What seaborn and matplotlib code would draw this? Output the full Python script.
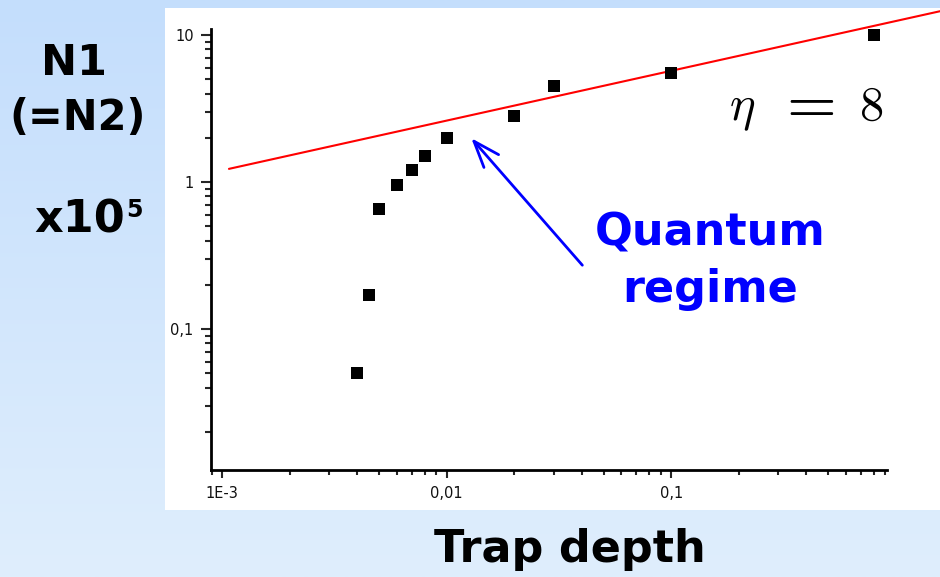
import numpy as np
import matplotlib
matplotlib.use("Agg")
import matplotlib.pyplot as plt
import seaborn as sns
from matplotlib.ticker import LogLocator, FixedLocator, FixedFormatter, NullFormatter
from matplotlib.patches import Rectangle
from matplotlib.colors import LinearSegmentedColormap

# ---- data ----
trap_depth = [0.004, 0.0045, 0.005, 0.006, 0.007, 0.008, 0.01, 0.02, 0.03, 0.1, 0.8]
n1 = [0.05, 0.17, 0.66, 0.95, 1.2, 1.5, 2.0, 2.8, 4.5, 5.5, 10.0]
fit_depth = [0.00107, 1.6]
fit_n = [1.23, 14.6]
xticks = [0.001, 0.01, 0.1]
xticklabels = ["1E-3", "0,01", "0,1"]
yticks = [0.1, 1, 10]
yticklabels = ["0,1", "1", "10"]

sns.set_style("ticks")
plt.rcParams["font.family"] = ["DejaVu Sans"]
plt.rcParams["mathtext.fontset"] = "cm"
plt.rcParams["text.color"] = "black"

W, H = 940, 577
fig = plt.figure(figsize=(9.4, 5.77), dpi=100)

# background gradient + white panel
bg = fig.add_axes([0, 0, 1, 1], zorder=-10)
grad = np.linspace(0, 1, 256).reshape(-1, 1)
cmap = LinearSegmentedColormap.from_list("bg", ["#C4DEFC", "#DFEEFD"])
bg.imshow(grad, aspect="auto", cmap=cmap, extent=[0, 1, 0, 1], origin="upper")
bg.set_xlim(0, 1)
bg.set_ylim(0, 1)
bg.axis("off")
bg.add_patch(Rectangle((165 / W, 1 - 510 / H), (W - 165) / W, (510 - 8) / H,
                       facecolor="white", edgecolor="none"))

ax = fig.add_axes([211 / W, 1 - 470 / H, (887 - 211) / W, (470 - 29) / H])
ax.patch.set_alpha(0)

sns.lineplot(x=fit_depth, y=fit_n, ax=ax, color="red", lw=1.5, clip_on=False, zorder=3)
sns.scatterplot(x=trap_depth, y=n1, ax=ax, marker="s", s=64, color="black",
                linewidth=0, zorder=4)

ax.set_xscale("log")
ax.set_yscale("log")
ax.set_xlim(0.00089, 0.916)
ax.set_ylim(0.011, 11)

ax.xaxis.set_major_locator(FixedLocator(xticks))
ax.xaxis.set_major_formatter(FixedFormatter(xticklabels))
ax.yaxis.set_major_locator(FixedLocator(yticks))
ax.yaxis.set_major_formatter(FixedFormatter(yticklabels))
ax.xaxis.set_minor_locator(LogLocator(base=10, subs=np.arange(2, 10), numticks=30))
ax.yaxis.set_minor_locator(LogLocator(base=10, subs=np.arange(2, 10), numticks=30))
ax.xaxis.set_minor_formatter(NullFormatter())
ax.yaxis.set_minor_formatter(NullFormatter())

sns.despine(ax=ax)
for s in ["left", "bottom"]:
    ax.spines[s].set_linewidth(2)
    ax.spines[s].set_color("black")
ax.tick_params(axis="y", which="major", direction="out", length=7.5, width=1.5,
               labelsize=10.5, labelcolor="#111111", pad=5)
ax.tick_params(axis="y", which="minor", direction="out", length=4.5, width=1.5)
ax.tick_params(axis="x", which="major", direction="out", length=5.5, width=1.5,
               labelsize=10.5, labelcolor="#111111", pad=6)
ax.tick_params(axis="x", which="minor", direction="out", length=3.5, width=1.5)
ax.set_xlabel("")
ax.set_ylabel("")

ax.annotate("", xy=(0.01286, 1.99), xytext=(0.0402, 0.272),
            arrowprops=dict(arrowstyle="->,head_length=1.9,head_width=0.7",
                            color="blue", lw=2, shrinkA=0, shrinkB=0,
                            mutation_scale=10))

# texts
bold = dict(fontweight="bold", va="baseline")
fig.text(710 / W, 1 - 245 / H, "Quantum", color="blue", fontsize=32, ha="center", **bold)
fig.text(710 / W, 1 - 302 / H, "regime", color="blue", fontsize=32, ha="center", **bold)
fig.text(742 / W, 1 - 120 / H, r"$\eta$", fontsize=35, ha="center", va="baseline")
fig.text(805 / W, 1 - 122 / H, r"$=$", fontsize=46, ha="center", va="baseline")
fig.text(871 / W, 1 - 120 / H, r"$8$", fontsize=35, ha="center", va="baseline")
fig.text(570 / W, 1 - 562 / H, "Trap depth", fontsize=32, ha="center", **bold)
fig.text(74 / W, 1 - 75 / H, "N1", fontsize=31, ha="center", **bold)
fig.text(78 / W, 1 - 130 / H, "(=N2)", fontsize=30, ha="center", **bold)
fig.text(125 / W, 1 - 233 / H, "x10", fontsize=32, ha="right", **bold)
fig.text(126 / W, 1 - 217 / H, "5", fontsize=17, ha="left", **bold)

fig.savefig("out.png", dpi=100)
